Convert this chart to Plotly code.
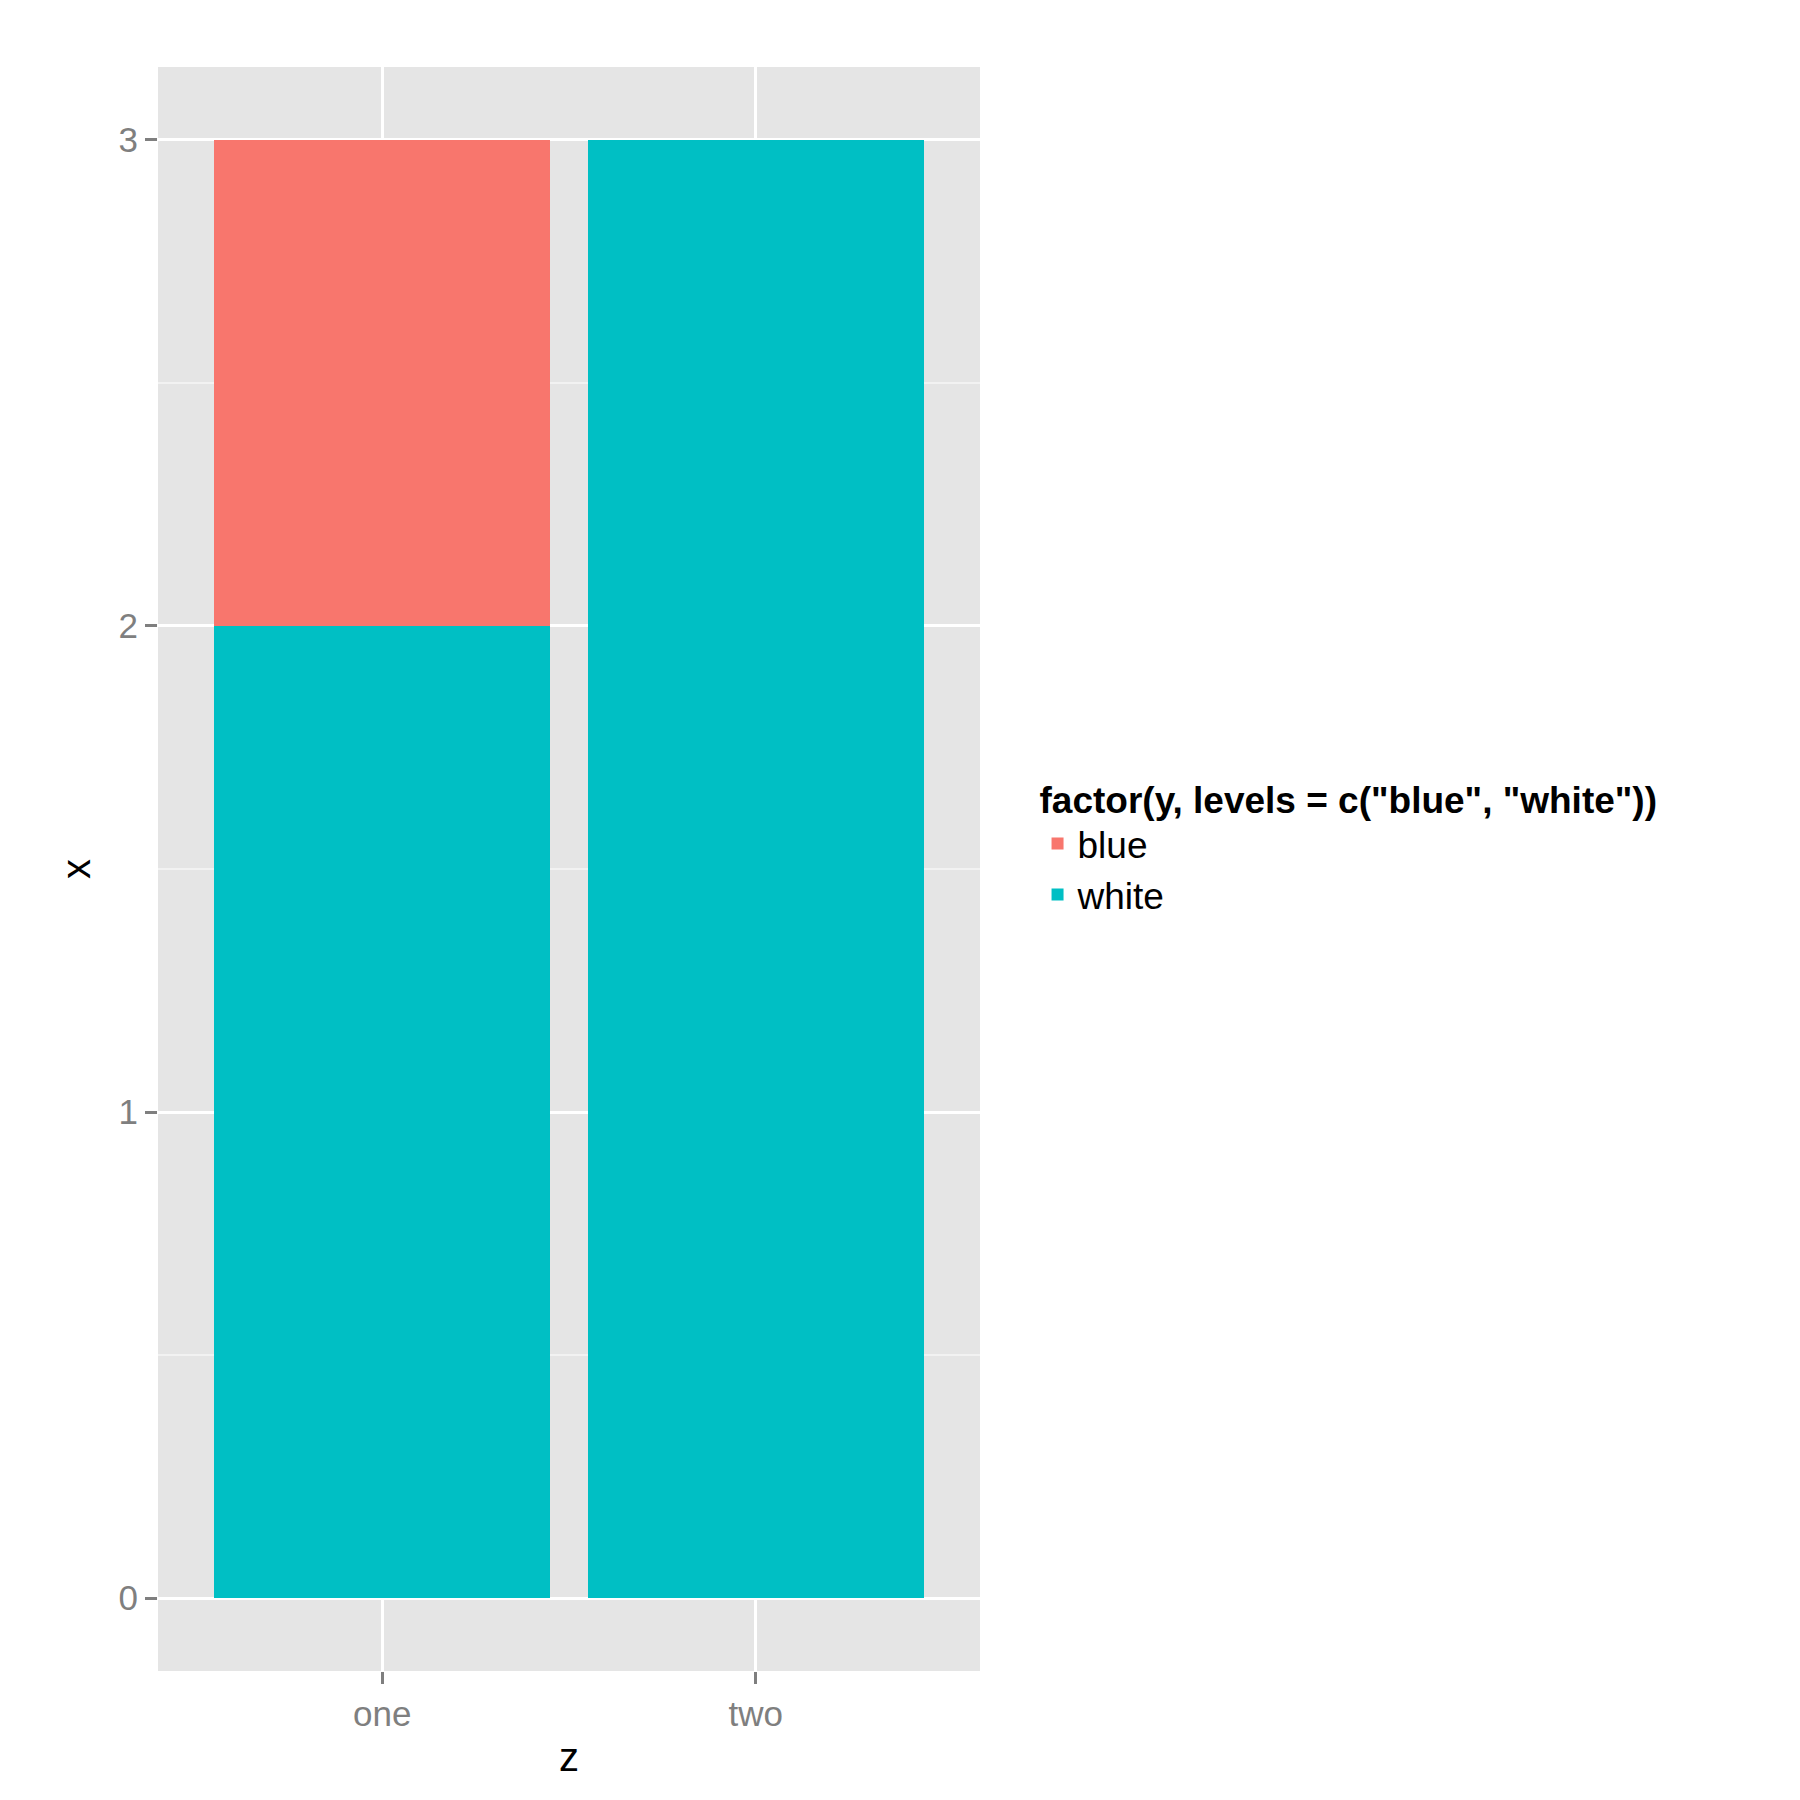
import plotly.graph_objects as go

categories = ["one", "two"]
white_vals = [2, 3]
blue_vals = [1, 0]

fig = go.Figure()
fig.add_trace(go.Bar(name="blue", x=categories, y=blue_vals, marker_color="#F8766D",
                     marker_line_width=0, width=0.9))
fig.add_trace(go.Bar(name="white", x=categories, y=white_vals, marker_color="#00BFC4",
                     marker_line_width=0, width=0.9))
# white stacked at the bottom, blue on top
fig.data = (fig.data[1], fig.data[0])

fig.update_layout(
    barmode="stack",
    width=1800, height=1800,
    margin=dict(l=150, r=828, t=59, b=137),
    paper_bgcolor="white",
    plot_bgcolor="#E5E5E5",
    font=dict(family="Liberation Sans, Arial", size=37, color="black"),
    legend=dict(
        title=dict(text='<b>factor(y, levels = c("blue", "white"))</b>', font=dict(size=37)),
        traceorder="reversed",
        x=1.07, xanchor="left", y=0.565, yanchor="top",
        font=dict(size=37),
    ),
    xaxis=dict(
        title=dict(text="z", font=dict(size=40), standoff=10),
        range=[-0.6, 1.6],
        showgrid=True, gridcolor="white", gridwidth=3,
        ticks="outside", ticklen=12, tickwidth=3, tickcolor="#7F7F7F",
        tickfont=dict(size=35, color="#7F7F7F"),
        zeroline=False,
    ),
    yaxis=dict(
        title=dict(text="x", font=dict(size=40), standoff=15),
        range=[-0.15, 3.15],
        tickvals=[0, 1, 2, 3],
        showgrid=True, gridcolor="white", gridwidth=3,
        minor=dict(dtick=0.5, showgrid=True, gridcolor="#F2F2F2", gridwidth=1.5),
        ticks="outside", ticklen=12, tickwidth=3, tickcolor="#7F7F7F",
        tickfont=dict(size=35, color="#7F7F7F"),
        zeroline=False,
    ),
)

fig.write_html("out.html")
